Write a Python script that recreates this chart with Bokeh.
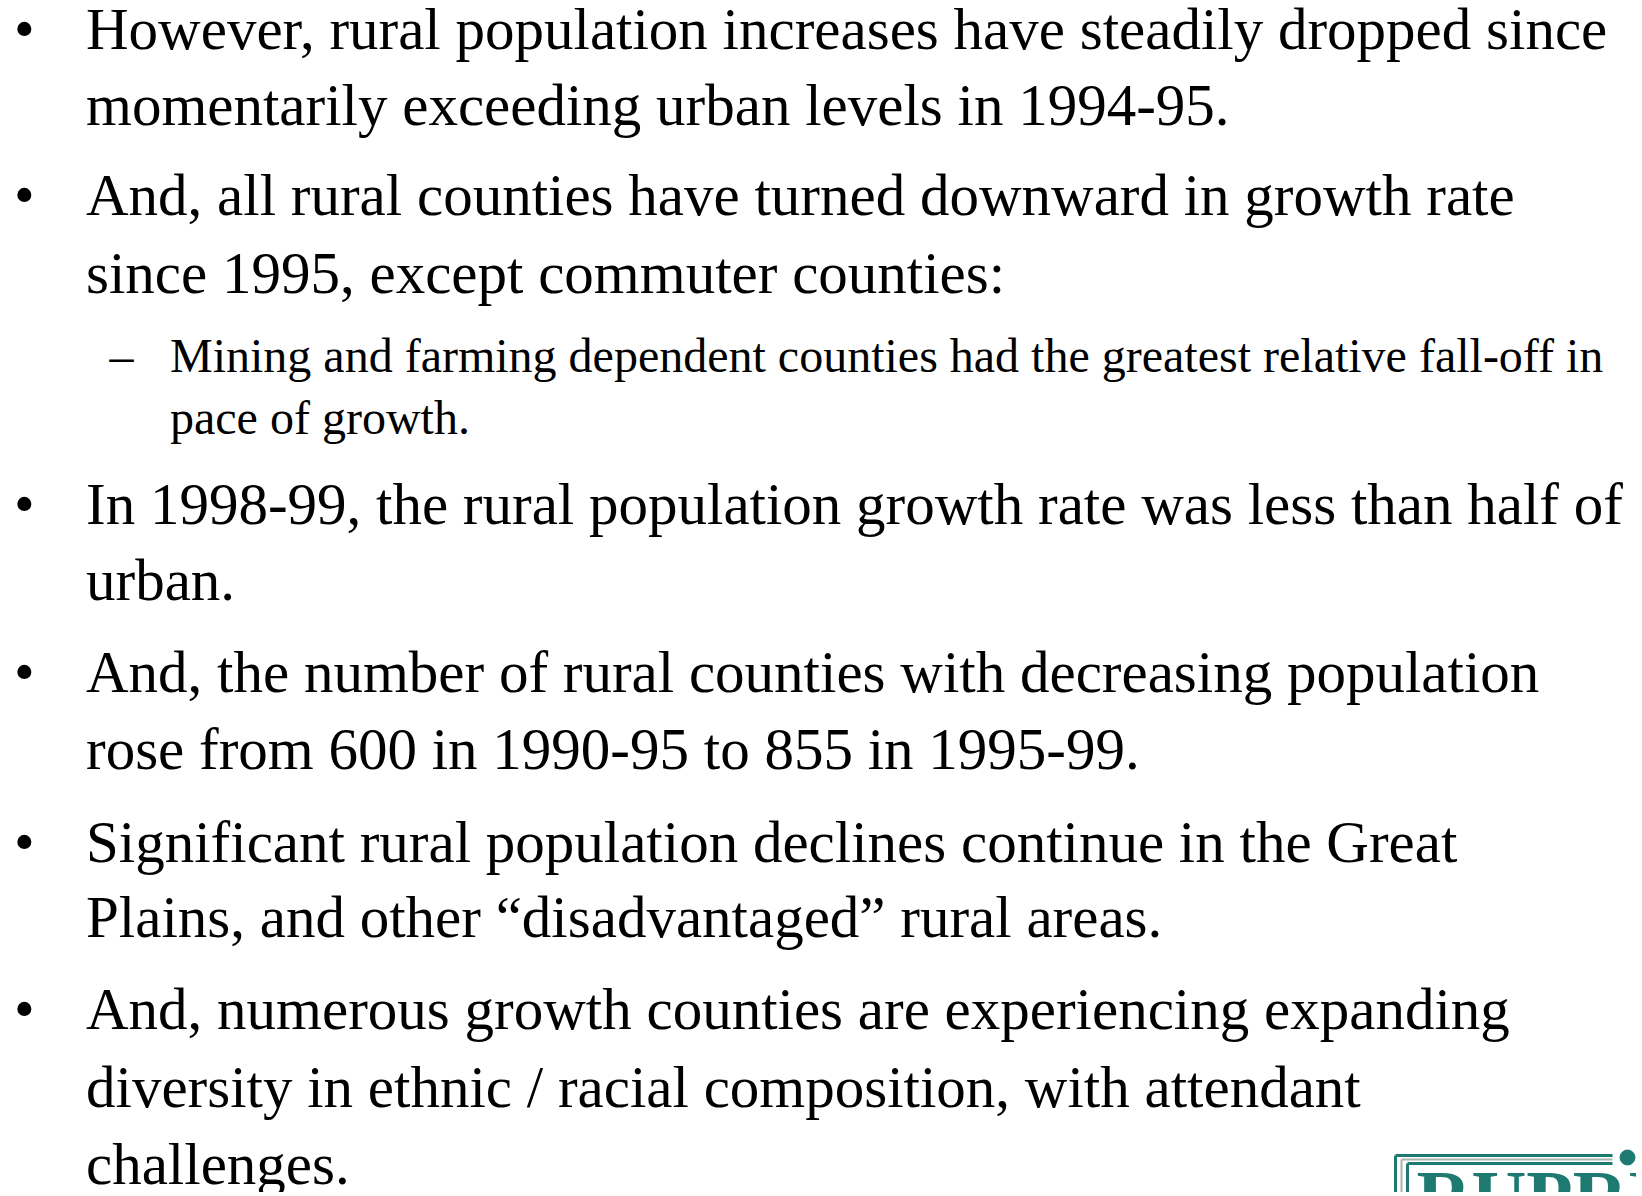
from bokeh.plotting import figure
from bokeh.models import Range1d
from bokeh.core.properties import value
from bokeh.embed import file_html
from bokeh.resources import INLINE

# ---- slide content ----
main_lines = [
    "However, rural population increases have steadily dropped since",
    "momentarily exceeding urban levels in 1994-95.",
    "And, all rural counties have turned downward in growth rate",
    "since 1995, except commuter counties:",
    "In 1998-99, the rural population growth rate was less than half of",
    "urban.",
    "And, the number of rural counties with decreasing population",
    "rose from 600 in 1990-95 to 855 in 1995-99.",
    "Significant rural population declines continue in the Great",
    "Plains, and other \u201cdisadvantaged\u201d rural areas.",
    "And, numerous growth counties are experiencing expanding",
    "diversity in ethnic / racial composition, with attendant",
    "challenges.",
]
sub_lines = [
    "Mining and farming dependent counties had the greatest relative fall-off in",
    "pace of growth.",
]
bullet_mark = "\u2022"
dash_mark = "\u2013"
logo_text = "RUPRI"

# ---- layout (pixel coordinates, y downward; text baselines) ----
main_y = [51.7, 128, 218, 296, 527, 603, 695, 772, 865, 940, 1032, 1110, 1187]
bullet_y = [51.7, 218, 527, 695, 865, 1032]
sub_y = [374, 436]
dash_y = [374]

MAIN_PX = 59
SUB_PX = 48
LOGO_PX = 76
SHIFT = 0.39  # renderer places the alphabetic baseline this many em lower


def base(ys, px):
    return [y - SHIFT * px for y in ys]


W, H = 1636, 1192
p = figure(width=W, height=H, output_backend="svg", toolbar_location=None,
           x_range=Range1d(0, W), y_range=Range1d(H, 0), title=None,
           min_border=0, background_fill_color="white",
           border_fill_color="white", outline_line_color=None)
p.axis.visible = False
p.grid.visible = False

serif = value("Liberation Serif")

p.text(x=[85.5] * len(main_lines), y=base(main_y, MAIN_PX), text=main_lines,
       text_font=serif, text_font_size=f"{MAIN_PX}px", text_color="black",
       text_baseline="alphabetic", text_align="left")
p.text(x=[13.5] * len(bullet_y), y=base(bullet_y, MAIN_PX),
       text=[bullet_mark] * len(bullet_y),
       text_font=serif, text_font_size=f"{MAIN_PX}px", text_color="black",
       text_baseline="alphabetic", text_align="left")
p.text(x=[169.5] * len(sub_lines), y=base(sub_y, SUB_PX), text=sub_lines,
       text_font=serif, text_font_size=f"{SUB_PX}px", text_color="black",
       text_baseline="alphabetic", text_align="left")
p.text(x=[109] * len(dash_y), y=base(dash_y, SUB_PX),
       text=[dash_mark] * len(dash_y),
       text_font=serif, text_font_size=f"{SUB_PX}px", text_color="black",
       text_baseline="alphabetic", text_align="left")

# ---- logo (partially visible at lower right) ----
teal = "#1e7a70"
p.segment(x0=[1395, 1395], y0=[1155, 1155], x1=[1612, 1395], y1=[1155, 1200],
          line_color=teal, line_width=3)
p.segment(x0=[1401, 1401], y0=[1159, 1159], x1=[1612, 1401], y1=[1159, 1200],
          line_color="#a8b4b0", line_width=2)
p.segment(x0=[1407, 1407], y0=[1163, 1163], x1=[1612, 1407], y1=[1163, 1200],
          line_color=teal, line_width=3)
p.scatter(x=[1627], y=[1157], size=15, color=teal)
p.text(x=[1416], y=base([1226], LOGO_PX), text=[logo_text],
       text_font=serif, text_font_style="bold",
       text_font_size=f"{LOGO_PX}px", text_color=teal,
       text_baseline="alphabetic", text_align="left")

open("out.html", "w").write(file_html(p, INLINE))
